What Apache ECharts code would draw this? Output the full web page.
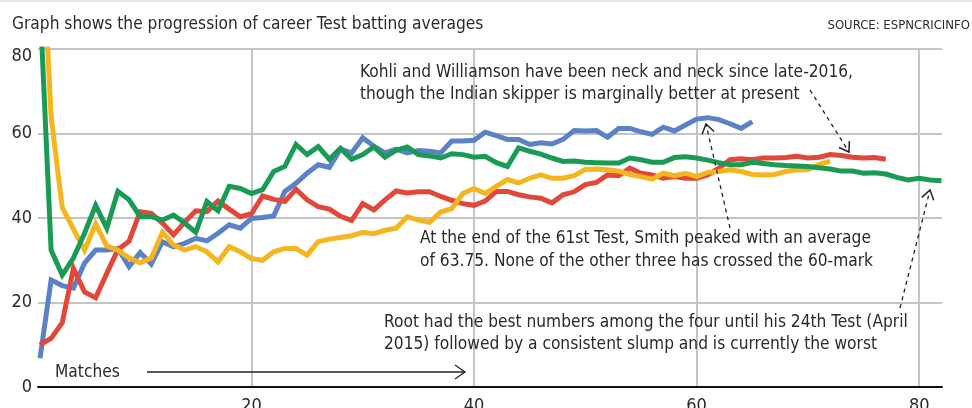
<!DOCTYPE html>
<html><head><meta charset="utf-8">
<script src="https://cdn.jsdelivr.net/npm/echarts@6/dist/echarts.min.js"></script>
<style>html,body{margin:0;padding:0;background:#fff}#c{width:972px;height:408px}</style>
</head><body><div id="c"></div>
<script>
// Career Test batting average after each match (match 1, 2, 3, ...)
const smith = [6.8,25.3,24.0,23.4,29.3,32.4,32.4,32.8,28.5,31.8,29.1,34.4,33.2,34.0,35.2,34.6,36.4,38.4,37.6,39.9,
  40.1,40.5,46.3,48.2,50.6,52.6,52.0,56.3,55.4,59.0,57.0,55.4,56.3,55.4,56.0,55.8,55.4,58.2,58.2,58.4,
  60.3,59.5,58.6,58.6,57.4,57.8,57.5,58.6,60.7,60.6,60.7,59.1,61.2,61.2,60.4,59.8,61.5,60.6,62.0,63.4,
  63.75,63.3,62.3,61.2,62.8];
const kohli = [10.0,11.5,15.2,28.1,22.5,21.1,26.9,32.5,34.5,41.5,41.1,38.8,36.0,39.0,41.7,41.5,44.0,42.1,40.3,41.0,
  45.2,44.4,43.9,46.8,44.3,42.7,42.1,40.4,39.4,43.4,41.9,44.3,46.4,45.9,46.2,46.2,45.1,44.2,43.4,43.0,
  44.0,46.3,46.3,45.5,45.0,44.7,43.6,45.5,46.2,47.9,48.4,50.2,50.0,51.8,50.6,50.2,49.4,49.8,49.4,49.4,
  50.2,51.8,53.8,54.0,53.8,54.2,54.2,54.3,54.6,54.2,54.4,55.0,54.8,54.4,54.2,54.3,53.9];
const williamson = [117,64,42.5,37.4,32.4,38.6,33.4,32.4,30.6,29.4,30.5,36.6,33.6,32.4,33.2,32.0,29.6,33.2,32.0,30.4,
  30.0,32.0,32.8,32.8,31.2,34.4,35.0,35.4,35.8,36.6,36.3,37.1,37.6,40.3,39.5,39.0,41.4,42.2,45.8,47.0,
  45.8,47.5,49.1,48.3,49.4,50.2,49.4,49.4,50.0,51.5,51.6,51.4,51.1,50.3,49.8,49.2,50.6,50.0,50.6,49.8,
  50.8,51.0,51.4,51.0,50.3,50.2,50.3,51.0,51.4,51.4,52.7,53.4];
const root = [91,32.4,26.5,30.5,36.4,43.0,37.6,46.3,44.3,40.3,40.3,39.5,40.7,38.8,36.6,43.9,41.7,47.5,47.0,45.8,
  46.7,51.0,52.2,57.4,55.0,56.9,53.9,56.5,53.9,55.0,56.8,54.4,56.0,56.8,55.0,54.7,54.2,55.2,55.0,54.4,
  54.6,53.1,52.2,56.6,55.8,55.1,54.2,53.4,53.5,53.2,53.1,53.0,53.0,54.2,53.8,53.2,53.2,54.3,54.5,54.2,
  53.7,53.1,52.6,52.6,53.2,52.9,52.6,52.4,52.3,52.2,51.9,51.6,51.1,51.1,50.6,50.7,50.4,49.6,49.0,49.4,
  49.0,48.8];
const xTickLabels = [20, 40, 60, 80];
const yTickLabels = [0, 20, 40, 60, 80];

const FONT = "'DejaVu Sans Condensed','Liberation Sans Narrow','Noto Sans',sans-serif";
const FS = 17.2;
const TXT = '#2a2a2a';
const toPts = arr => arr.map((v, i) => [i + 1, v]);

function arrow(from, tip, len, ang) {
  const dx = from[0] - tip[0], dy = from[1] - tip[1];
  const a = Math.atan2(dy, dx), r = ang * Math.PI / 180;
  const p1 = [tip[0] + len * Math.cos(a + r), tip[1] + len * Math.sin(a + r)];
  const p2 = [tip[0] + len * Math.cos(a - r), tip[1] + len * Math.sin(a - r)];
  return [
    { type: 'line', shape: { x1: from[0], y1: from[1], x2: tip[0], y2: tip[1] },
      style: { stroke: '#222', lineWidth: 1.3, lineDash: [4, 4] }, z: 50 },
    { type: 'polyline', shape: { points: [p1, tip, p2] },
      style: { stroke: '#222', lineWidth: 1.5, fill: null }, z: 50 }
  ];
}
function txt(x, y, s, extra) {
  return Object.assign({ type: 'text', x: x, y: y,
    style: { text: s, fill: TXT, font: FS + 'px ' + FONT, textVerticalAlign: 'middle', verticalAlign: 'middle' }, z: 60 }, extra || {});
}

const chart = echarts.init(document.getElementById('c'), null, { renderer: 'canvas' });
const mk = (name, data, color) => ({
  name, type: 'line', data: toPts(data), showSymbol: false, symbol: 'none',
  lineStyle: { color, width: 5, cap: 'butt', join: 'miter' }, itemStyle: { color },
  animation: false, clip: true
});
chart.setOption({
  animation: false,
  grid: { left: 38, right: 30, top: 49, bottom: 21, containLabel: false, outerBoundsMode: 'none' },
  xAxis: {
    type: 'value', min: 0.82, max: 82.05,
    axisLine: { show: true, onZero: false, lineStyle: { color: '#111', width: 2 } },
    axisTick: { show: false, customValues: xTickLabels },
    axisLabel: { customValues: xTickLabels, color: TXT, fontSize: 18, fontFamily: FONT, margin: 10 },
    splitLine: { show: true, lineStyle: { color: '#c4c4c4', width: 2 } }
  },
  yAxis: {
    type: 'value', min: 0, max: 80, interval: 20,
    axisLine: { show: false }, axisTick: { show: false },
    axisLabel: { color: TXT, fontSize: 18, fontFamily: FONT, margin: 6,
      formatter: v => v === 80 ? '{t|80}' : String(v),
      rich: { t: { padding: [15, 0, 0, 0], fontSize: 18, fontFamily: FONT, color: TXT } } },
    splitLine: { show: true, lineStyle: { color: '#c4c4c4', width: 2 } }
  },
  series: [
    mk('Smith', smith, '#5b82c7'),
    mk('Kohli', kohli, '#e2483a'),
    mk('Williamson', williamson, '#f5b51f'),
    mk('Root', root, '#1a9b55')
  ],
  graphic: [
    { type: 'rect', shape: { x: 0, y: 0, width: 972, height: 2 }, style: { fill: '#e6e6e6' } },
    txt(12, 25, 'Graph shows the progression of career Test batting averages'),
    txt(970, 26, 'SOURCE: ESPNCRICINFO', { style: { text: 'SOURCE: ESPNCRICINFO', fill: TXT, font: '13px ' + FONT, align: 'right', textAlign: 'right', verticalAlign: 'middle', textVerticalAlign: 'middle' } }),
    txt(360, 73, 'Kohli and Williamson have been neck and neck since late-2016,'),
    txt(360, 95, 'though the Indian skipper is marginally better at present'),
    txt(420, 239, 'At the end of the 61st Test, Smith peaked with an average'),
    txt(420, 262, 'of 63.75. None of the other three has crossed the 60-mark'),
    txt(384, 323, 'Root had the best numbers among the four until his 24th Test (April'),
    txt(384, 345, '2015) followed by a consistent slump and is currently the worst'),
    txt(55, 372.5, 'Matches'),
    { type: 'line', shape: { x1: 147, y1: 372, x2: 465, y2: 372 }, style: { stroke: '#222', lineWidth: 1.3 }, z: 50 },
    { type: 'polyline', shape: { points: [[455, 365], [465, 372], [455, 379]] }, style: { stroke: '#222', lineWidth: 1.3, fill: null }, z: 50 },
    ...arrow([810, 90], [849, 152], 11, 34),
    ...arrow([730, 228], [706, 124], 11, 34),
    ...arrow([900, 308], [930, 190], 11, 34)
  ]
});
</script></body></html>
